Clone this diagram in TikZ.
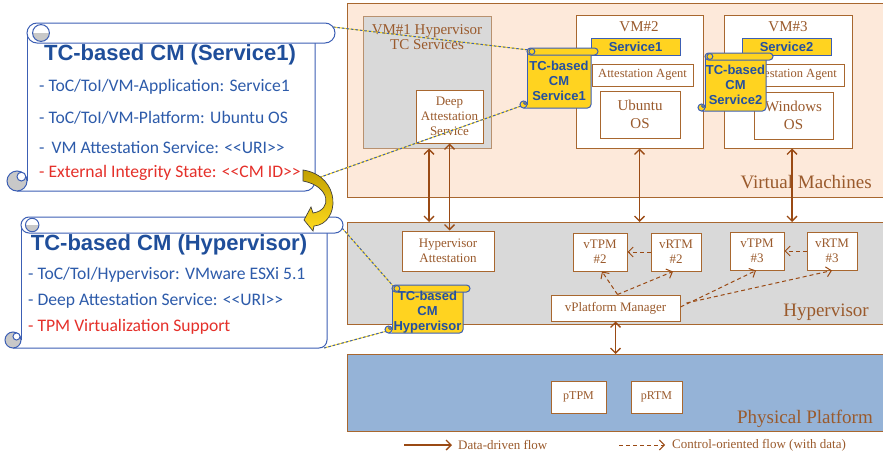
\documentclass[tikz,border=0pt]{standalone}
\usepackage{fontspec}
\setmainfont{Liberation Serif}
\newfontfamily\headfont{Liberation Sans}
\newfontfamily\listfont{Carlito}
\usetikzlibrary{arrows.meta,calc}

\definecolor{peach}{HTML}{FDE9DA}
\definecolor{panelgray}{HTML}{D9D9D9}
\definecolor{physblue}{HTML}{95B3D7}
\definecolor{rust}{HTML}{A8672F}
\definecolor{rustlight}{HTML}{B8916F}
\definecolor{rusttext}{HTML}{9A5A2C}
\definecolor{arrowbrown}{HTML}{9A4A14}
\definecolor{cmyellow}{HTML}{FFD320}
\definecolor{cmblue}{HTML}{2450A0}
\definecolor{scrolledge}{HTML}{3C5FB4}
\definecolor{curlgray}{HTML}{C8C8C8}
\definecolor{titleblue}{HTML}{1F4E9A}
\definecolor{itemblue}{HTML}{2D5BAA}
\definecolor{itemred}{HTML}{E5302A}
\definecolor{golddark}{HTML}{C2A000}
\definecolor{goldlight}{HTML}{FFDB1F}

\tikzset{scrollline/.style={draw=scrolledge, line width=1pt}}

% Scroll shape: left, top, right, bottom, roll height, sheet fill, curl fill
\newcommand\tcscroll[7]{%
  \pgfmathsetmacro\scL{#1}%
  \pgfmathsetmacro\scT{#2}%
  \pgfmathsetmacro\scR{#3}%
  \pgfmathsetmacro\scB{#4}%
  \pgfmathsetmacro\scD{#5}%
  \pgfmathsetmacro\scH{#5/2}%
  \pgfmathsetmacro\scBL{#1+#5}%
  \pgfmathsetmacro\scBR{#3-#5}%
  \pgfmathsetmacro\scCR{0.42*#5}%
  \pgfmathsetmacro\scIR{0.22*#5}%
  % sheet
  \fill[#6] ({\scBL},{\scT+\scH}) -- ({\scBL},{\scB}) [rounded corners=\scH pt]
     -- ({\scBR},{\scB}) -- ({\scBR},{\scT+\scH}) [sharp corners] -- cycle;
  \draw[scrollline] ({\scBL},{\scT+\scH}) -- ({\scBL},{\scB-\scH});
  \draw[scrollline, rounded corners=\scH pt] ({\scL+\scH},{\scB}) -- ({\scBR},{\scB}) -- ({\scBR},{\scT+\scD});
  % top roll
  \filldraw[scrollline, fill=#6, rounded corners=\scH pt] ({\scBL},{\scT}) rectangle ({\scR},{\scT+\scD});
  \begin{scope}
    \clip ({\scBL},{\scT+\scH}) rectangle ({\scBL+1.5*\scD},{\scT+\scD});
    \fill[#7] ({\scBL+0.7*\scD},{\scT+\scH}) circle[radius=\scCR pt];
  \end{scope}
  \draw[scrollline] ({\scBL+0.7*\scD},{\scT+\scH}) circle[radius=\scCR pt];
  % bottom curl
  \filldraw[scrollline, fill=#7] ({\scL+\scH},{\scB-\scH}) circle[radius=\scH pt];
  \filldraw[scrollline, fill=#6] ({\scL+0.72*\scD},{\scB-0.72*\scD}) circle[radius=\scIR pt];
}

\tikzset{
  >={Straight Barb[length=5pt,width=10pt]},
  band/.style={draw=rust, line width=1.1pt, inner sep=0pt, anchor=north west},
  box/.style={draw=rust, fill=white, line width=1pt, text=rusttext, align=center,
    inner sep=0pt, font=\fontsize{13}{15}\selectfont},
  svcbar/.style={draw=scrolledge, fill=cmyellow, line width=1pt, text=cmblue,
    inner sep=0pt, font=\headfont\bfseries\fontsize{13}{15}\selectfont},
  cmtext/.style={text=cmblue, align=center, inner sep=0pt,
    font=\headfont\bfseries\fontsize{13}{15}\selectfont},
  bandlabel/.style={text=rusttext, anchor=east, inner sep=0pt, font=\fontsize{19}{21}\selectfont},
  flow/.style={draw=arrowbrown, line width=1.3pt},
  ctrl/.style={draw=arrowbrown, line width=1pt, dash pattern=on 4pt off 3pt},
  cmlink/.style={preaction={draw=goldlight, solid, line width=1pt},
    draw=scrolledge, dash pattern=on 2.5pt off 2pt, line width=1pt},
  scrolltitle/.style={text=titleblue, inner sep=0pt, font=\headfont\bfseries\fontsize{22}{24}\selectfont},
  item/.style={text=itemblue, anchor=west, inner sep=0pt, font=\listfont\fontsize{17.6}{19}\selectfont},
  legendtext/.style={text=rusttext, anchor=west, inner sep=0pt, font=\fontsize{13}{15}\selectfont},
}

\begin{document}
\begin{tikzpicture}[x=1pt,y=-1pt]
\useasboundingbox (0,0) rectangle (883,453);
\clip (0,0) rectangle (883,453);

% layer bands
\node[band, fill=peach, minimum width=545pt, minimum height=194pt] (vmband) at (347,3) {};
\node[band, fill=panelgray, minimum width=545pt, minimum height=102pt] (hypband) at (347,222) {};
\node[band, fill=physblue, minimum width=545pt, minimum height=77pt] (physband) at (347,354) {};
\node[bandlabel] (vmlabel) at (872,182) {Virtual Machines};
\node[bandlabel] (hyplabel) at (869,312) {Hypervisor};
\node[bandlabel] (physlabel) at (873,419) {Physical Platform};

% VM#1
\node[box, fill=panelgray, draw=rustlight, minimum width=128pt, minimum height=132pt] (vm1) at (427,82) {};
\node[box, draw=none, fill=none, font=\fontsize{15}{15}\selectfont] (vm1title) at (427,37) {VM\#1 Hypervisor\\TC Services};
\node[box, minimum width=67pt, minimum height=53pt] (das) at (449.5,116.5) {Deep\\Attestation\\Service};

% VM#2
\node[box, minimum width=127pt, minimum height=133pt] (vm2) at (639.5,81.5) {};
\node[box, draw=none, fill=none, font=\fontsize{15}{15}\selectfont] (vm2title) at (639,27) {VM\#2};
\node[svcbar, minimum width=89pt, minimum height=17pt] (svc1) at (635.5,46.5) {Service1};
\node[box, minimum width=101pt, minimum height=22pt, font=\fontsize{12.5}{14}\selectfont] (agent2) at (642.5,75) {Attestation Agent};
\node[box, minimum width=80pt, minimum height=47pt, font=\fontsize{15}{18}\selectfont] (ubuntu) at (640,114.5) {Ubuntu\\OS};

% VM#3
\node[box, minimum width=128pt, minimum height=133pt] (vm3) at (788,81.5) {};
\node[box, draw=none, fill=none, font=\fontsize{15}{15}\selectfont] (vm3title) at (788,27) {VM\#3};
\node[svcbar, minimum width=89pt, minimum height=17pt] (svc2) at (786.5,46.5) {Service2};
\node[box, minimum width=103pt, minimum height=22pt, font=\fontsize{12.5}{14}\selectfont] (agent3) at (792.5,75) {Attestation Agent};
\node[box, minimum width=79pt, minimum height=47pt, font=\fontsize{15}{18}\selectfont] (windows) at (793.5,115.5) {Windows\\OS};

% hypervisor components
\node[box, minimum width=92pt, minimum height=40pt] (hypatt) at (448,251) {Hypervisor\\Attestation};
\node[box, minimum width=54pt, minimum height=38pt] (vtpm2) at (600,252) {vTPM\\\#2};
\node[box, minimum width=50pt, minimum height=38pt] (vrtm2) at (676,252) {vRTM\\\#2};
\node[box, minimum width=54pt, minimum height=38pt] (vtpm3) at (757,251) {vTPM\\\#3};
\node[box, minimum width=50pt, minimum height=38pt] (vrtm3) at (832,251) {vRTM\\\#3};
\node[box, minimum width=129pt, minimum height=26pt] (vpm) at (615.5,308) {vPlatform Manager};

% physical components
\node[box, minimum width=55pt, minimum height=32pt, font=\fontsize{12}{14}\selectfont] (ptpm) at (578.5,397) {pTPM};
\node[box, minimum width=51pt, minimum height=32pt, font=\fontsize{12}{14}\selectfont] (prtm) at (656.5,397) {pRTM};

% data-driven flows
\draw[flow, <->] ([xshift=-20.5pt]das.south |- vm1.south) -- ([xshift=-20.5pt]das.south |- hypband.north);
\draw[flow, <->] (das.south) -- (das.south |- hypatt.north);
\draw[flow, <->] (vm2.south) -- (vm2.south |- hypband.north);
\draw[flow, <->] ([xshift=4pt]vm3.south) -- ([xshift=4pt]vm3.south |- hypband.north);
\draw[flow, <->] (vpm.south) -- (vpm.south |- physband.north);

% control-oriented flows
\draw[ctrl, ->] (vrtm2.west) -- (vtpm2.east);
\draw[ctrl, ->] (vrtm3.west) -- (vtpm3.east);
\draw[ctrl, ->] ([xshift=2pt]vpm.north) -- ([xshift=2pt]vtpm2.south);
\draw[ctrl, ->] ([xshift=2pt]vpm.north) -- ([xshift=-3pt]vrtm2.south);
\draw[ctrl, ->] ([yshift=1pt]vpm.east) -- ([xshift=-1pt]vtpm3.south);
\draw[ctrl, ->] ([xshift=6pt,yshift=5pt]vpm.east) -- (vrtm3.south);

% legend
\coordinate (lgsolidA) at (404,445);
\coordinate (lgsolidB) at (452,445);
\coordinate (lgdashA) at (619,445);
\coordinate (lgdashB) at (665,445);
\draw[flow, ->] (lgsolidA) -- (lgsolidB);
\node[legendtext] (lgsolidtext) at (458,445) {Data-driven flow};
\draw[ctrl, ->] (lgdashA) -- (lgdashB);
\node[legendtext] (lgdashtext) at (672,445) {Control-oriented flow (with data)};

% anchor points on the scrolls
\coordinate (s1roll) at (333,27);
\coordinate (s1side) at (315,179);
\coordinate (s2roll) at (342,228);
\coordinate (s2foot) at (324,348);
\coordinate (cm1top) at (529,50);
\coordinate (cm1curl) at (521,106);
\coordinate (cmhtop) at (394,287);
\coordinate (cmhcurl) at (387,331);

\draw[cmlink] (s1roll) -- (cm1top);
\draw[cmlink] (s1side) -- (cm1curl);
\draw[cmlink] (s2roll) -- (cmhtop);
\draw[cmlink] (s2foot) -- (cmhcurl);

% trust credential manifests attached to components
\tcscroll{520}{48}{598}{108}{7}{cmyellow}{cmyellow}
\node[cmtext] (cm1) at (559,81) {TC-based\\CM\\Service1};
\tcscroll{698}{53}{773}{111}{7}{cmyellow}{cmyellow}
\node[cmtext] (cm2) at (735.5,85) {TC-based\\CM\\Service2};
\tcscroll{385}{285}{470}{333}{7}{cmyellow}{cmyellow}
\node[cmtext] (cmh) at (427.5,312) {TC-based\\CM\\Hypervisor};

% manifest for Service1
\tcscroll{7}{23}{335}{191}{20}{white}{curlgray}
\node[scrolltitle] (s1title) at (170,55) {TC-based CM (Service1)};
\node[item] (s1a) at (39,87) {- ToC/ToI/VM-Application: Service1};
\node[item] (s1b) at (39,118) {- ToC/ToI/VM-Platform: Ubuntu OS};
\node[item] (s1c) at (39,147) {-\hspace{7pt}VM Attestation Service: <\kern0pt<URI>\kern0pt>};
\node[item, text=itemred] (s1d) at (39,173) {- External Integrity State: <\kern0pt<CM ID>\kern0pt>};

% manifest for the hypervisor
\tcscroll{5}{217}{343}{348}{16}{white}{curlgray}
\node[scrolltitle] (s2title) at (169,245) {TC-based CM (Hypervisor)};
\node[item] (s2a) at (28,275) {- ToC/ToI/Hypervisor: VMware ESXi 5.1};
\node[item] (s2b) at (28,301) {- Deep Attestation Service: <\kern0pt<URI>\kern0pt>};
\node[item, text=itemred] (s2c) at (28,327) {- TPM Virtualization Support};

% curved arrow from one manifest to the next
\shade[top color=golddark, bottom color=goldlight, draw=black!75, line width=0.7pt]
  (303,170) .. controls (342,176) and (340,224) .. (314,226) -- (313,231) -- (304,220)
  -- (311,207) -- (313,213) .. controls (333,210) and (330,186) .. (303,181) -- cycle;
\end{tikzpicture}
\end{document}
